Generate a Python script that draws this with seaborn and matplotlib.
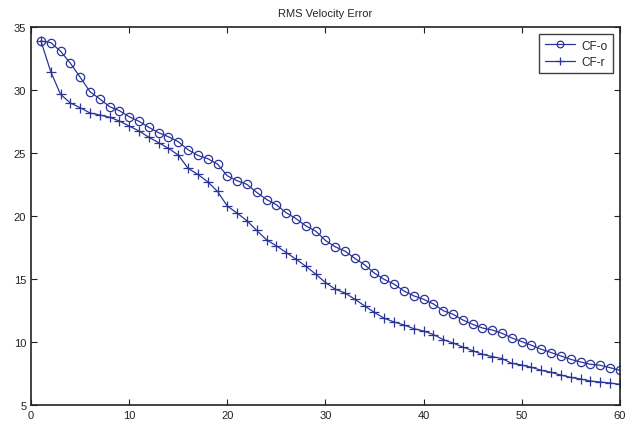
import numpy as np
import pandas as pd
import seaborn as sns
import matplotlib.pyplot as plt

# iteration index and RMS velocity error
iters = list(range(1, 61))
cf_o = [33.9, 33.78, 33.09, 32.14, 31.03, 29.88, 29.30, 28.69, 28.37, 27.89,
        27.53, 27.05, 26.62, 26.30, 25.91, 25.27, 24.82, 24.56, 24.13, 23.20,
        22.81, 22.52, 21.88, 21.32, 20.90, 20.27, 19.80, 19.23, 18.81, 18.07,
        17.56, 17.22, 16.64, 16.13, 15.47, 14.97, 14.60, 14.06, 13.67, 13.40,
        13.03, 12.50, 12.21, 11.76, 11.41, 11.12, 10.96, 10.70, 10.33, 10.04,
        9.75, 9.43, 9.17, 8.90, 8.63, 8.42, 8.24, 8.16, 7.97, 7.76]
cf_r = [33.9, 31.47, 29.67, 28.98, 28.61, 28.19, 28.03, 27.85, 27.55, 27.15,
        26.76, 26.26, 25.83, 25.38, 24.85, 23.79, 23.31, 22.73, 21.96, 20.8,
        20.24, 19.63, 18.86, 18.12, 17.64, 17.11, 16.58, 16.02, 15.40, 14.73,
        14.20, 13.90, 13.40, 12.87, 12.35, 11.89, 11.60, 11.36, 11.07, 10.88,
        10.60, 10.20, 9.93, 9.61, 9.32, 9.03, 8.85, 8.69, 8.31, 8.18,
        8.0, 7.76, 7.60, 7.38, 7.20, 7.07, 6.91, 6.83, 6.75, 6.65]

sns.set_style("ticks")
plt.rcParams["font.family"] = ["Liberation Sans", "DejaVu Sans"]

data = pd.DataFrame({"iter": iters, "CF-o": cf_o, "CF-r": cf_r})
blue = "#2b3499"

fig = plt.figure(figsize=(6.35, 4.27), dpi=100)
ax = fig.add_axes([0.049, 0.049, 0.927, 0.885])
sns.lineplot(data=data, x="iter", y="CF-o", ax=ax, color=blue, lw=0.9,
             marker="o", markersize=6, markerfacecolor="none",
             markeredgecolor=blue, markeredgewidth=0.9, label="CF-o")
sns.lineplot(data=data, x="iter", y="CF-r", ax=ax, color=blue, lw=0.9,
             marker="+", markersize=6.5, markeredgecolor=blue,
             markeredgewidth=0.9, label="CF-r")

ax.set_xlim(0, 60)
ax.set_ylim(5, 35)
ax.set_xticks(range(0, 61, 10))
ax.set_yticks(range(5, 36, 5))
ax.set_xlabel("")
ax.set_ylabel("")
ax.set_title("RMS Velocity Error", fontsize=8, pad=8)
ax.tick_params(direction="in", length=4, width=0.8, labelsize=8,
               top=True, right=True, colors="#222222")
for s in ax.spines.values():
    s.set_visible(True)
    s.set_linewidth(1.2)
    s.set_color("#222222")

leg = ax.legend(loc="upper right", fontsize=8.5, frameon=True, fancybox=False,
                handlelength=2.6, handletextpad=0.5, markerscale=0.8,
                borderpad=0.45, labelspacing=0.35, borderaxespad=0.6)
leg.get_frame().set_edgecolor("#111111")
leg.get_frame().set_linewidth(1.0)

fig.savefig("out.png", dpi=100)
